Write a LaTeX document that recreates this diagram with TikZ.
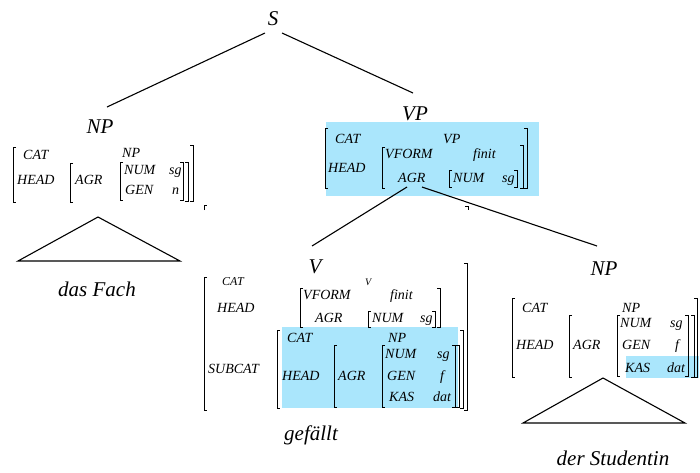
\documentclass[tikz,border=0pt]{standalone}
\usepackage{fontspec}
\setmainfont{Liberation Serif}
\definecolor{hl}{RGB}{170,230,252}
% square brackets of attribute-value matrices: x, top y, bottom y
\newcommand\avmL[3]{\draw[brk] (#1+3,#2) -- (#1,#2) -- (#1,#3) -- (#1+3,#3);}
\newcommand\avmR[3]{\draw[brk] (#1-3,#2) -- (#1,#2) -- (#1,#3) -- (#1-3,#3);}
\begin{document}
\begin{tikzpicture}[x=1pt,y=-1pt,
  avm/.style={anchor=base west, inner sep=0pt, font=\fontsize{14}{14}\selectfont\itshape},
  avms/.style={anchor=base west, inner sep=0pt, font=\fontsize{12}{12}\selectfont\itshape},
  lab/.style={anchor=base, inner sep=0pt, font=\fontsize{21}{21}\selectfont\itshape},
  edge/.style={line width=1.1pt},
  brk/.style={line width=0.8pt},
  tri/.style={line width=1.1pt, line join=miter}]
\useasboundingbox (0,0) rectangle (700,472);

% highlighted regions
\fill[hl] (326,122) rectangle (539,196);
\fill[hl] (282,327) rectangle (458,408);
\fill[hl] (626,356) rectangle (699,378);

% category labels and words
\node[lab] (s)   at (273,25)  {S};
\node[lab] (np1) at (100,133) {NP};
\node[lab] (vp)  at (415,120) {VP};
\node[lab] (v)   at (315,273) {V};
\node[lab] (np2) at (604,275) {NP};
\node[lab] (w1)  at (97,296)  {das Fach};
\node[lab] (w2)  at (311,440) {gefällt};
\node[lab] (w3)  at (613,465) {der Studentin};

% tree branches
\coordinate (s-l)   at (265,33);
\coordinate (s-r)   at (282,33);
\coordinate (np1-t) at (107,107);
\coordinate (vp-t)  at (413,93);
\coordinate (agr-l) at (407,187);
\coordinate (agr-r) at (422,187);
\coordinate (v-t)   at (312,246);
\coordinate (np2-t) at (597,246);
\draw[edge] (s-l) -- (np1-t);
\draw[edge] (s-r) -- (vp-t);
\draw[edge] (agr-l) -- (v-t);
\draw[edge] (agr-r) -- (np2-t);

% roof triangles
\coordinate (t1) at (98,217);
\draw[tri] (t1) -- (18,261) -- (180,261) -- cycle;
\coordinate (t2) at (603,378);
\draw[tri] (t2) -- (523,423) -- (685,423) -- cycle;

% small stray marks
\draw[line width=0.7pt] (204,210) -- (204,205) -- (207,205);
\draw[line width=0.7pt] (465,206) -- (468,206) -- (468,210);

% ---- NP (das Fach)
\node[avm] (a1-cat)  at (23,159)  {CAT};
\node[avm] (a1-np)   at (122,157) {NP};
\node[avm] (a1-head) at (17,184)  {HEAD};
\node[avm] (a1-agr)  at (75,184)  {AGR};
\node[avm] (a1-num)  at (124,174) {NUM};
\node[avm] (a1-sg)   at (169,174) {sg};
\node[avm] (a1-gen)  at (125,194) {GEN};
\node[avm] (a1-n)    at (172,194) {n};
\avmL{13}{147}{202}
\avmL{70}{163}{202}
\avmL{120}{162}{200}
\avmR{183}{162}{200}
\avmR{188}{162}{201}
\avmR{193}{145}{201}

% ---- VP
\node[avm] (a2-cat)   at (335,143) {CAT};
\node[avm] (a2-vp)    at (443,143) {VP};
\node[avm] (a2-head)  at (328,172) {HEAD};
\node[avm] (a2-vform) at (385,158) {VFORM};
\node[avm] (a2-fin)   at (473,158) {finit};
\node[avm] (a2-agr)   at (398,182) {AGR};
\node[avm] (a2-num)   at (453,182) {NUM};
\node[avm] (a2-sg)    at (502,182) {sg};
\avmL{325}{128}{188}
\avmL{382}{147}{188}
\avmL{449}{170}{187}
\avmR{517}{170}{187}
\avmR{523}{145}{188}
\avmR{527}{128}{188}

% ---- V (gefällt)
\node[avms] (a3-cat)  at (222,285) {CAT};
\node[anchor=base west, inner sep=0pt, font=\fontsize{10}{10}\selectfont\itshape] (a3-v) at (365,285) {V};
\node[avm] (a3-head)  at (217,312) {HEAD};
\node[avm] (a3-vform) at (303,299) {VFORM};
\node[avm] (a3-fin)   at (390,299) {finit};
\node[avm] (a3-agr)   at (315,322) {AGR};
\node[avm] (a3-num)   at (372,322) {NUM};
\node[avm] (a3-sg)    at (420,322) {sg};
\node[avm] (a3-sub)   at (208,373) {SUBCAT};
\avmL{300}{288}{327}
\avmR{440}{288}{327}
\avmL{368}{311}{327}
\avmR{435}{311}{327}
% subcategorised NP
\node[avm] (a3-cat2)  at (287,342) {CAT};
\node[avm] (a3-np)    at (388,342) {NP};
\node[avm] (a3-head2) at (282,380) {HEAD};
\node[avm] (a3-agr2)  at (338,380) {AGR};
\node[avm] (a3-num2)  at (385,358) {NUM};
\node[avm] (a3-sg2)   at (437,358) {sg};
\node[avm] (a3-gen)   at (387,380) {GEN};
\node[avm] (a3-f)     at (440,380) {f};
\node[avm] (a3-kas)   at (389,401) {KAS};
\node[avm] (a3-dat)   at (433,401) {dat};
\avmL{277}{330}{408}
\avmL{334}{345}{407}
\avmL{382}{345}{407}
\avmR{455}{345}{407}
\avmR{459}{345}{407}
\avmR{463}{330}{408}
\avmL{204}{277}{410}
\avmR{467}{263}{410}

% ---- NP (der Studentin)
\node[avm] (a4-cat)  at (522,312) {CAT};
\node[avm] (a4-np)   at (622,312) {NP};
\node[avm] (a4-head) at (516,349) {HEAD};
\node[avm] (a4-agr)  at (573,349) {AGR};
\node[avm] (a4-num)  at (620,327) {NUM};
\node[avm] (a4-sg)   at (670,327) {sg};
\node[avm] (a4-gen)  at (622,349) {GEN};
\node[avm] (a4-f)    at (675,349) {f};
\node[avm] (a4-kas)  at (625,372) {KAS};
\node[avm] (a4-dat)  at (667,372) {dat};
\avmL{512}{298}{377}
\avmL{569}{315}{377}
\avmL{617}{315}{376}
\avmR{688}{315}{376}
\avmR{694}{315}{377}
\avmR{697}{298}{377}
\end{tikzpicture}
\end{document}
